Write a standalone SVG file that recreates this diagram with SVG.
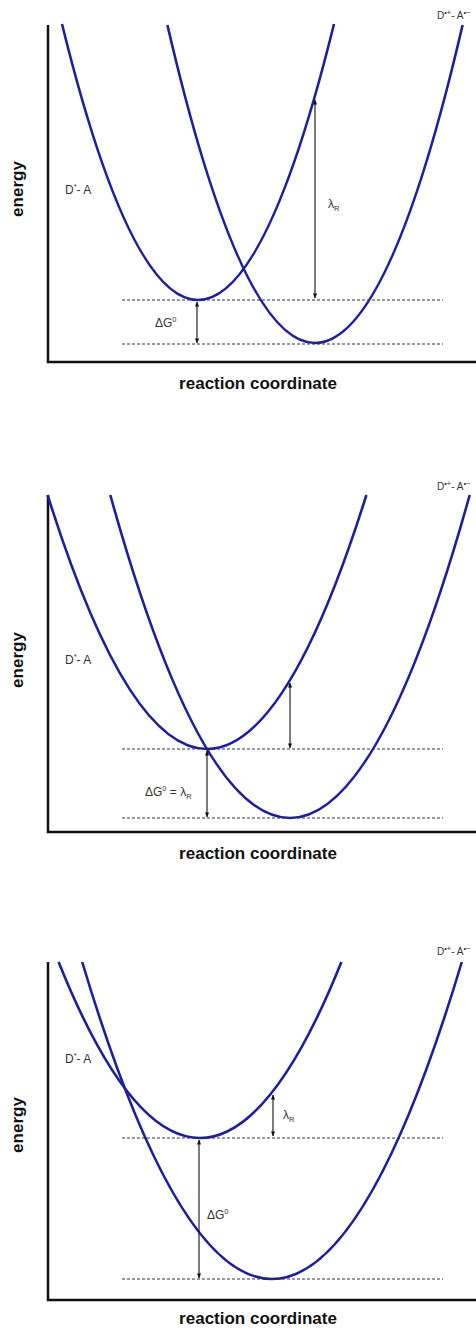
<svg xmlns="http://www.w3.org/2000/svg" width="476" height="1331" viewBox="0 0 476 1331">
<defs>
<marker id="ah" viewBox="0 0 6 6" refX="5.5" refY="3" markerWidth="5" markerHeight="5" orient="auto-start-reverse" markerUnits="userSpaceOnUse">
<path d="M0,0.5 L6,3 L0,5.5 z" fill="#111"/>
</marker>
</defs>
<style>
.axis{stroke:#111;stroke-width:2.5;fill:none}
.curve{stroke:#1e1e9e;stroke-width:2.6;fill:none}
.dash{stroke:#333;stroke-width:1;stroke-dasharray:3,2;fill:none}
.arr{stroke:#111;stroke-width:1.1;fill:none;marker-start:url(#ah);marker-end:url(#ah)}
.ttl{font-family:"Liberation Sans",Arial,sans-serif;font-weight:bold;font-size:17px;fill:#111}
.lbl{font-family:"Liberation Sans",Arial,sans-serif;font-size:10px;fill:#333}
.big{font-size:12px}
.sup{font-size:7.5px}
</style>

<g id="panel1">
<g id="axes1">
<path class="axis" d="M48,25 V362 H476"/>
<text class="ttl" x="258" y="389" text-anchor="middle">reaction coordinate</text>
<text class="ttl" transform="translate(23,189) rotate(-90)" text-anchor="middle">energy</text>
</g>
<g id="curves1">
<path class="curve" d="M62,24 Q198,576 334,24"/>
<path class="curve" d="M167.4,25 Q315,661 462.6,25"/>
</g>
<g id="labels1">
<text class="lbl big" x="65" y="194">D<tspan class="sup" dy="-5">*</tspan><tspan dy="5">- A</tspan></text>
<text class="lbl" x="437" y="19">D<tspan class="sup" dy="-4">•+</tspan><tspan dy="4">- A</tspan><tspan class="sup" dy="-4">•−</tspan></text>
<text class="lbl big" x="155" y="327">ΔG<tspan class="sup" dy="-5">0</tspan></text>
<text class="lbl big" x="328" y="208">λ<tspan class="sup" dy="3">R</tspan></text>
</g>
<g id="connectors1">
<path class="dash" d="M122,300 H443"/>
<path class="dash" d="M122,344 H443"/>
<path class="arr" d="M315,100 V298"/>
<path class="arr" d="M197,302 V343"/>
</g>
</g>

<g id="panel2">
<g id="axes2">
<path class="axis" d="M48,495 V832 H476"/>
<text class="ttl" x="258" y="859" text-anchor="middle">reaction coordinate</text>
<text class="ttl" transform="translate(23,660) rotate(-90)" text-anchor="middle">energy</text>
</g>
<g id="curves2">
<path class="curve" d="M47.6,495 Q207,1003 366.4,495"/>
<path class="curve" d="M110.3,495 Q290,1141 469.7,495"/>
</g>
<g id="labels2">
<text class="lbl big" x="65" y="664">D<tspan class="sup" dy="-5">*</tspan><tspan dy="5">- A</tspan></text>
<text class="lbl" x="437" y="490">D<tspan class="sup" dy="-4">•+</tspan><tspan dy="4">- A</tspan><tspan class="sup" dy="-4">•−</tspan></text>
<text class="lbl big" x="145" y="796">ΔG<tspan class="sup" dy="-5">0</tspan><tspan dy="5"> = λ</tspan><tspan class="sup" dy="3">R</tspan></text>
</g>
<g id="connectors2">
<path class="dash" d="M122,749 H443"/>
<path class="dash" d="M122,818 H443"/>
<path class="arr" d="M290,683 V748"/>
<path class="arr" d="M207,751 V817"/>
</g>
</g>

<g id="panel3">
<g id="axes3">
<path class="axis" d="M48,962 V1300 H476"/>
<text class="ttl" x="258" y="1324" text-anchor="middle">reaction coordinate</text>
<text class="ttl" transform="translate(23,1125) rotate(-90)" text-anchor="middle">energy</text>
</g>
<g id="curves3">
<path class="curve" d="M58.6,962 Q200,1314 341.4,962"/>
<path class="curve" d="M82.2,962 Q272,1596 461.8,962"/>
</g>
<g id="labels3">
<text class="lbl big" x="65" y="1063">D<tspan class="sup" dy="-5">*</tspan><tspan dy="5">- A</tspan></text>
<text class="lbl" x="437" y="955">D<tspan class="sup" dy="-4">•+</tspan><tspan dy="4">- A</tspan><tspan class="sup" dy="-4">•−</tspan></text>
<text class="lbl big" x="283" y="1119">λ<tspan class="sup" dy="3">R</tspan></text>
<text class="lbl big" x="207" y="1219">ΔG<tspan class="sup" dy="-5">0</tspan></text>
</g>
<g id="connectors3">
<path class="dash" d="M122,1138 H443"/>
<path class="dash" d="M122,1279 H443"/>
<path class="arr" d="M273,1095 V1136"/>
<path class="arr" d="M199,1140 V1278"/>
</g>
</g>
</svg>
